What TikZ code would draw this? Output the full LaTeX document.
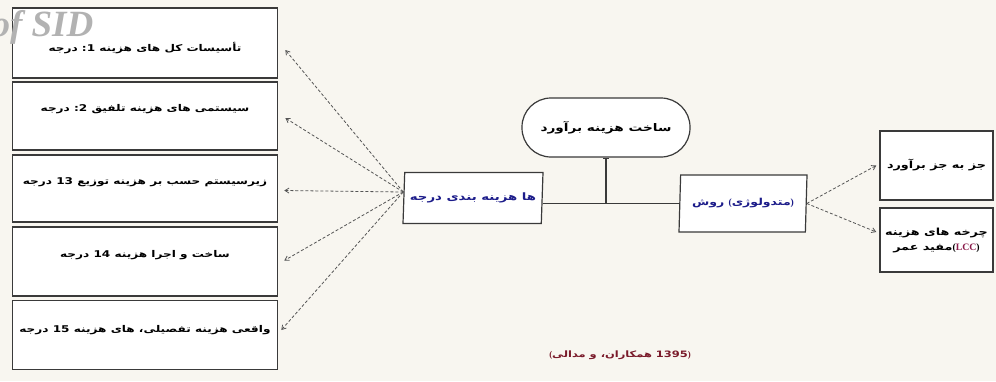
\documentclass[tikz,border=0pt]{standalone}
\usepackage{fontspec}
\setmainfont{Liberation Serif}
\newfontfamily\fa[Script=Arabic, FakeStretch=1.3]{DejaVu Sans}
\TeXXeTstate=1
\usetikzlibrary{arrows.meta,shapes.geometric}
\definecolor{bgc}{HTML}{F8F6F0}
\definecolor{bord}{HTML}{3A3A3A}
\definecolor{navy}{HTML}{1C1C8A}
\definecolor{capc}{HTML}{7A1A2A}
\definecolor{lccc}{HTML}{8A1A4A}
\definecolor{dashc}{HTML}{555555}
\newcommand\w[1]{\hbox{#1}}
\newcommand\lpar{\hbox{\rmfamily\bfseries(}}
\newcommand\rpar{\hbox{\rmfamily\bfseries)}}
\newcommand\up[2]{\raisebox{#1}[\height][\depth]{#2}}
\begin{document}
\begin{tikzpicture}[x=1pt,y=-1pt,
  lbox/.style={draw=bord, line width=1.6pt, fill=white, minimum width=265pt, inner sep=2pt,
    font=\fa\bfseries\fontsize{9.3}{12}\selectfont},
  rbox/.style={draw=bord, line width=1.4pt, fill=white, minimum width=113pt, inner sep=2pt, align=center,
    font=\fa\bfseries\fontsize{9.8}{15}\selectfont},
  pbox/.style={draw=bord, line width=1.2pt, fill=white, trapezium, trapezium left angle=82,
    trapezium right angle=98, trapezium stretches body, inner sep=1pt, text=navy},
  ebox/.style={draw=bord, line width=1.2pt, fill=white, rounded corners=29pt,
    minimum width=168pt, minimum height=59pt, font=\fa\bfseries\fontsize{10.5}{12}\selectfont},
  darr/.style={draw=dashc, line width=0.8pt, densely dashed, -{Straight Barb[length=4pt,width=5pt]}}
]
\fill[bgc] (0,0) rectangle (996,381);
\useasboundingbox (0,0) rectangle (996,381);

% left boxes
\node[lbox, minimum height=70pt] (b1) at (145,43)
  {\up{-5pt}{\beginR\w{تأسیسات} \w{کل} \w{های} \w{هزینه} \w{1:} \w{درجه}\endR}};
\node[lbox, minimum height=68pt] (b2) at (145,116)
  {\up{7pt}{\beginR\w{سیستمی} \w{های} \w{هزینه} \w{تلفیق} \w{2:} \w{درجه}\endR}};
\node[lbox, minimum height=67pt] (b3) at (145,188.5)
  {\up{6pt}{\beginR\w{زیرسیستم} \w{حسب} \w{بر} \w{هزینه} \w{توزیع} \w{13} \w{درجه}\endR}};
\node[lbox, minimum height=69pt] (b4) at (145,261.5)
  {\up{6pt}{\beginR\w{ساخت} \w{و} \w{اجرا} \w{هزینه} \w{14} \w{درجه}\endR}};
\node[lbox, minimum height=69pt] (b5) at (145,335)
  {\up{5pt}{\beginR\w{واقعی} \w{هزینه} \w{تفصیلی،} \w{های} \w{هزینه} \w{15} \w{درجه}\endR}};

% centre shapes
\node[ebox] (e) at (606,127.5) {\beginR\w{ساخت} \w{هزینه} \w{برآورد}\endR};
\node[pbox, minimum width=140pt, minimum height=51pt, font=\fa\bfseries\fontsize{10.2}{12}\selectfont]
  (p1) at (473,198) {\beginR\w{ها} \w{هزینه} \w{بندی} \w{درجه}\endR};
\node[pbox, minimum width=128pt, minimum height=57pt, font=\fa\bfseries\fontsize{9.6}{12}\selectfont]
  (p2) at (743,203.5) {\beginR\rpar\w{متدولوژی}\lpar\ \w{روش}\endR};

% right boxes
\node[rbox, minimum height=69pt] (r1) at (936.5,165.5) {\beginR\w{جز} \w{به} \w{جز} \w{برآورد}\endR};
\node[rbox, minimum height=64pt] (r2) at (936.5,240)
  {\beginR\w{چرخه} \w{های} \w{هزینه}\endR\\\beginR\w{مفید} \w{عمر}\endR\lpar\textcolor{lccc}{\rmfamily\bfseries LCC}\rpar};

% caption
\node[font=\fa\bfseries\fontsize{8.8}{10}\selectfont, text=capc] (cap) at (620,355)
  {\beginR\rpar\w{1395} \w{همکاران،} \w{و} \w{مدالی}\lpar\endR};

% connectors
\draw[line width=1.2pt, draw=bord] (p1.east |- p2.west) -- (p2.west);
\draw[line width=1.2pt, draw=bord, {Bar[width=6pt]}-] (e.south) -- (e.south |- p2.west);

\draw[darr] ([yshift=6pt]p1.west) -- ([xshift=7pt,yshift=-7pt]b1.east);
\draw[darr] ([yshift=6pt]p1.west) -- ([xshift=7pt,yshift=-2pt]b2.east);
\draw[darr] ([yshift=6pt]p1.west) -- ([xshift=6pt,yshift=-2pt]b3.east);
\draw[darr] ([yshift=6pt]p1.west) -- ([xshift=6pt,yshift=1pt]b4.east);
\draw[darr] ([yshift=6pt]p1.west) -- ([xshift=3pt,yshift=5pt]b5.east);

\draw[darr] (p2.east) -- ([xshift=-3pt]r1.west);
\draw[darr] (p2.east) -- ([xshift=-3pt,yshift=8pt]r2.west);

% watermark (drawn over the first box, as in the reference)
\node[anchor=base west, font=\bfseries\itshape\fontsize{37}{37}\selectfont, text=black!30] (wm) at (-12,36) {of SID};
\end{tikzpicture}
\end{document}
